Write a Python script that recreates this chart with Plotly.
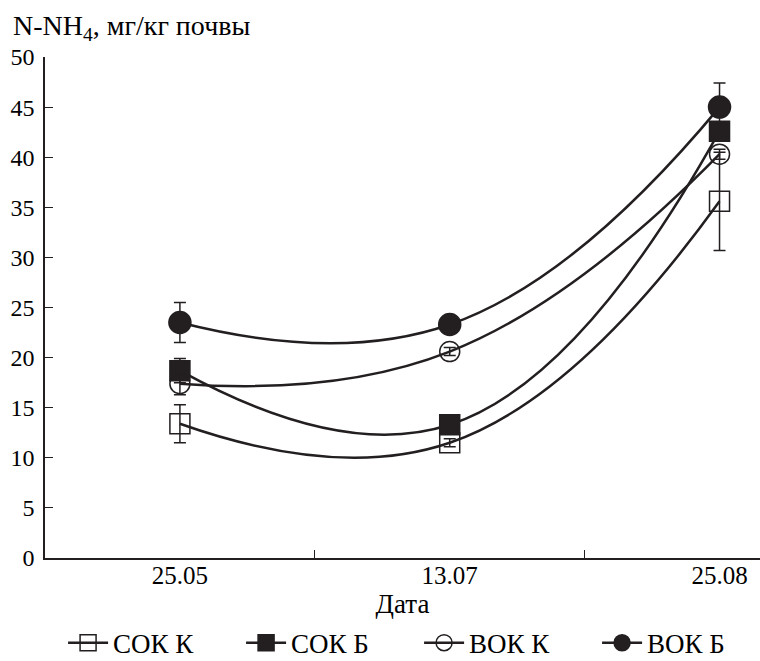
import plotly.graph_objects as go

dates = ["25.05", "13.07", "25.08"]
series_names = ["СОК К", "СОК Б", "ВОК К", "ВОК Б"]
sok_k = [13.4, 11.5, 35.6]
sok_k_err = [1.9, 0.4, 4.9]
sok_b = [18.7, 13.3, 42.6]
sok_b_err = [1.2, 0.4, 0.4]
vok_k = [17.4, 20.6, 40.3]
vok_k_err = [1.1, 0.4, 0.5]
vok_b = [23.5, 23.3, 45.0]
vok_b_err = [2.0, 0.6, 2.4]
y_ticks = list(range(0, 51, 5))

INK = "#231f20"
FONT = "Liberation Serif, Times New Roman, serif"

symbols = ["square-open", "square", "circle-open", "circle"]
sizes = [20, 20, 20, 22]
values = [sok_k, sok_b, vok_k, vok_b]
errors = [sok_k_err, sok_b_err, vok_k_err, vok_b_err]

fig = go.Figure()
for name, sym, sz, vals, errs in zip(series_names, symbols, sizes, values, errors):
    fig.add_trace(go.Scatter(
        x=dates, y=vals, name=name, mode="lines+markers",
        line=dict(color=INK, width=2.5, shape="spline", smoothing=1.3),
        marker=dict(symbol=sym, size=sz, color=INK,
                    line=dict(color=INK, width=1.5)),
        error_y=dict(type="data", array=errs, visible=True,
                     color=INK, thickness=1.5, width=6),
        cliponaxis=False,
    ))

fig.update_layout(
    width=760, height=661,
    margin=dict(l=45, r=0, t=57, b=103, autoexpand=False),
    paper_bgcolor="white", plot_bgcolor="white",
    font=dict(family=FONT, size=25, color="black"),
    showlegend=True,
    legend=dict(orientation="h", xref="container", yref="container",
                x=0.083, xanchor="left", y=0.027, yanchor="middle",
                font=dict(size=27), itemwidth=40,
                entrywidth=123, entrywidthmode="pixels",
                tracegroupgap=0, bgcolor="rgba(0,0,0,0)"),
    xaxis=dict(
        type="category", range=[-0.5, 2.15], tickson="boundaries",
        ticks="inside", ticklen=8, tickwidth=1, tickcolor=INK,
        showline=True, linecolor=INK, linewidth=1.5,
        showgrid=False, zeroline=False, automargin=False,
        ticklabelstandoff=-6,
        title=dict(text="Дата", font=dict(size=27), standoff=22),
        tickfont=dict(size=25),
    ),
    yaxis=dict(
        range=[0, 50], tickvals=y_ticks, ticks="inside", ticklen=8,
        tickwidth=1, tickcolor=INK, showline=True, linecolor=INK,
        linewidth=1.5, showgrid=False, zeroline=False, automargin=False,
        tickfont=dict(size=24), ticklabelstandoff=4,
    ),
    annotations=[dict(
        text="N-NH<sub>4</sub>, мг/кг почвы", xref="paper", yref="paper",
        x=-0.048, y=1.058, xanchor="left", yanchor="middle",
        showarrow=False, font=dict(size=28, color="black"),
    )],
)

fig.write_html("out.html")
